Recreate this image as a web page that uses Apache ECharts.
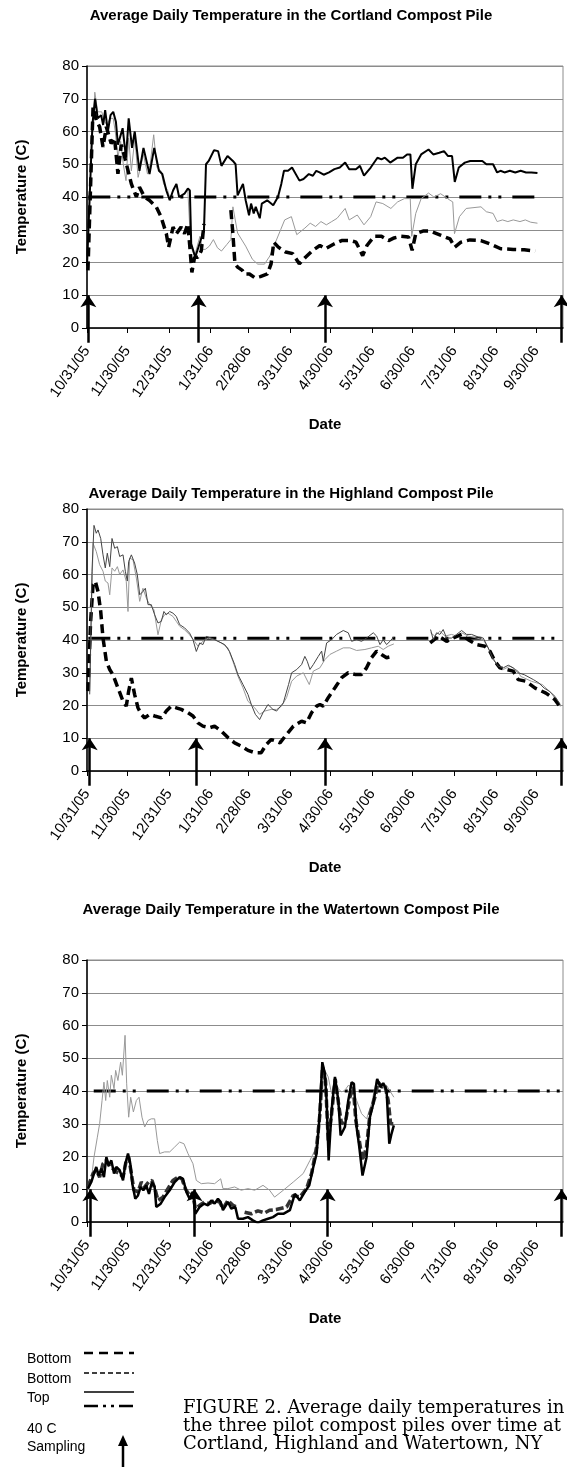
<!DOCTYPE html>
<html>
<head>
<meta charset="utf-8">
<script src="https://cdn.jsdelivr.net/npm/echarts@6/dist/echarts.min.js"></script>
<style>
  html, body { margin: 0; padding: 0; background: #fff; }
  #chart { width: 567px; height: 1467px; }
</style>
</head>
<body>
<div id="chart"></div>
<script>
// day 0 = 10/31/05
const tickDays = [0, 30, 61, 92, 120, 151, 181, 212, 242, 273, 304, 334]
const tickLabels = ['10/31/05', '11/30/05', '12/31/05', '1/31/06', '2/28/06', '3/31/06', '4/30/06', '5/31/06', '6/30/06', '7/31/06', '8/31/06', '9/30/06']

// Cortland
const cortlandTop = [[0,19],[2,40],[4,62],[6,70],[8,64],[10.5,65],[12,62],[13.5,66.5],[15.5,60],[17.5,65],[19.5,66],[21.5,63],[23,56],[26.5,61],[29,52],[31,64],[33.5,55],[35.5,60],[39,48],[42,55],[46.5,47],[50,55],[53.5,48],[56,47],[59,42],[61.5,39],[64,42],[66.5,44],[68.5,40],[72.5,41],[75,42.6],[76.5,42],[77.5,25.7],[80.5,21.6],[87,30],[88.5,50],[90.5,51],[94.5,54.3],[97.5,54],[100,49.5],[104.5,52.5],[108.5,51],[110.5,50],[112,40.5],[116,44],[118,39],[120.5,34.4],[122,38],[124,35],[125.5,37],[128.5,33.5],[130,38],[134,39],[138.5,37.5],[142,40],[144.5,44],[146.5,48],[149.5,48],[152.5,49],[158,45],[161,45.5],[165,47],[168,46.5],[170.5,48],[173,47.5],[176,46.8],[180,47.5],[184,48.5],[188,49],[192,50.5],[195,48.5],[200,48.5],[203,49.5],[206,46.5],[211,49],[216,52],[219,51.5],[221.5,52],[225.5,50.5],[231,52],[235,52],[238,53],[240.5,53],[242,42.5],[244.5,50],[248.5,53],[254,54.5],[257.5,53],[262,53.5],[265.5,54],[268.5,52.5],[271.5,52.5],[273.5,44.6],[276.5,49],[281,50.5],[285,51],[294,51],[297,50],[302,50],[305,47.5],[307.5,48],[310.5,47.5],[314.5,48],[318.5,47.5],[322.5,48],[326.5,47.5],[330.5,47.5],[335,47.3]]
const cortlandBottom1 = [[0.7,17.6],[4.5,67.5],[6.9,63.4],[9.4,61.4],[11.9,55.3],[14.4,61.4],[18,56.3],[20.5,58],[23,47.1],[25.5,56],[28,52.2],[33,44],[36.7,40],[39,43],[42.8,40],[46.4,39],[51.5,37],[55,34],[59,28.8],[60.7,24.7],[64,30.8],[66.5,28.8],[70,30.8],[72.5,28.8],[75,31.8],[76.5,24.7],[78,17],[80,21.6],[82.5,21.6],[85,23.6],[87,31.8],[97,'-'],[107,36],[108.5,28.8],[110,19.7],[112,18.6],[115.5,17.6],[117,16.5],[120.8,16.5],[124.9,15.3],[128.9,15.7],[134.2,16.5],[136.9,19.6],[138.9,26.2],[142.3,24.7],[147.7,23.2],[153,22.7],[157.9,19.6],[162.5,21.6],[167.9,23.7],[173.2,25.2],[177.3,24.2],[184,25.7],[189.4,26.7],[196,26.7],[200.1,26.2],[205,22.1],[208.2,25.2],[213.6,28],[219,28],[224.3,26.7],[228.4,27.5],[233.7,28],[239.1,27.8],[241.8,23.7],[244.5,28.8],[249.9,29.6],[255.2,29.6],[263.3,28.3],[270,27.2],[273.5,24.7],[278.1,26.2],[284.8,26.9],[292.9,26.7],[300.9,25.5],[307.7,24.2],[317,24],[325.2,23.9],[333.3,23.5]]
const cortlandBottom2 = [[0,19],[2,42],[5.8,72],[8,66],[11,66],[13,63],[15,62],[17,64],[19.5,64],[21,60],[23,52],[25,57],[27,50],[29,45],[31,58],[33,48],[35.6,58],[38,46],[42,53],[45,47],[47,50],[49.6,59],[52,49],[55,48],[57,44],[60,42],[62,39],[64,42],[66.5,44],[68.4,40],[72,41],[75,42],[76.5,30],[78,24],[80,22],[82,25],[84,28],[86,24],[88,24],[91,25],[94,27],[97,24.5],[100,23.5],[104,25.5],[107,27],[108.5,37],[112,29],[118,25],[123,21],[127,19.5],[132,19.5],[136,22],[140,26],[144,30],[147,33],[152,34],[156,28.5],[162,30.5],[166,32],[170,31],[174,32.5],[178,31.5],[182,32.5],[186,33.5],[192,36.5],[195,33],[201,34.5],[206,31.5],[211,34],[215,38.5],[220,38],[226,36.5],[231,38.5],[236,39.5],[240.4,39.5],[241.5,28],[244.5,35],[248.5,39.5],[254,41.2],[258,40],[263,41],[270,39],[272,38.5],[273.3,28.8],[277,34],[282,36.5],[293,37],[297,35.5],[302,35],[305,32.5],[309,33],[313,32.5],[317,33],[322,32.5],[326,33],[330,32.3],[335,32]]
const cortland40 = [[1,40],[337,40]]
const cortlandSampling = [1, 83, 177, 353]

// Highland
const highlandTop = [[2,23.4],[3.7,61],[5.2,75],[6.9,72.6],[8.2,73.6],[10.2,71],[11.9,66],[13.6,62],[15.1,66.5],[16.9,62.4],[18.6,71],[20.6,68],[22.6,68.5],[24.3,65.5],[26.8,66],[28.5,61],[30,58],[31,64],[33,66],[35.4,63.5],[37.4,60],[39.2,53.8],[41.6,54.8],[43.4,55.8],[45.4,50.8],[47.8,50.8],[50.3,47.7],[52.8,45.2],[55.3,45.7],[57.2,48.7],[59,47.7],[61.5,48.7],[63.9,48.2],[66.4,47.2],[68.9,44.7],[72.6,43.7],[76.3,42.1],[78.8,40.1],[81.3,36.5],[83.8,39.1],[86.2,38.6],[88.7,41.1],[92.4,40.6],[97.4,39.6],[102.4,38.6],[106,36.5],[109.8,32.5],[112.3,29.4],[116,26.4],[119.7,23.4],[122.2,20.3],[125.2,17.3],[128.4,15.7],[130.9,17.8],[134.6,20.3],[138.3,18.8],[141,18.3],[146,20.8],[149.9,26.4],[152.2,30],[156,31],[159.6,32.5],[162,35],[163.8,33.5],[165.8,31],[168.3,32.5],[172,35],[174.5,36.6],[175.7,33.5],[178.2,39.1],[181.9,40.1],[185.6,41.7],[190.6,42.9],[194.3,42.2],[196.8,39.6],[200.5,40.1],[204.2,39.6],[207.9,40.6],[212.9,42.2],[215.4,41.2],[217.9,38.6],[220.3,40.1],[222.8,38.6],[225.3,39.6],[228.2,41],[240,'-'],[255.5,43.2],[257.5,40.1],[260,42.2],[262.4,41.7],[264.9,43.2],[267.4,40.6],[271.1,40.6],[274.8,41.7],[278.6,42.9],[282.3,41.7],[286,41.7],[291,40.9],[294.7,40.6],[298.4,37.6],[302.2,34],[305.9,32],[309.6,31.5],[313.3,32.3],[317,31.5],[320.7,30],[325.2,29.4],[332,27.9],[336,26.9],[340,25.3],[344,24.3],[348,22.8],[352,20.3]]
const highlandBottom1 = [[0.7,24.4],[2.7,45.7],[4.5,56.9],[6.2,57.9],[8.2,54.8],[10.2,48.7],[11.9,40.6],[14.4,33.5],[16.9,31],[19.3,29.4],[23,25.4],[26.8,21.3],[29.2,19.8],[31,24.4],[33,28.4],[35.4,23.4],[37.9,19.3],[40.4,17.3],[42.9,16.2],[46.6,17.3],[50.3,16.8],[55.3,16.2],[59,18.3],[62.7,19.8],[66.4,19.3],[70.1,18.8],[75.1,17.8],[78.8,16.8],[82.5,14.7],[86.2,13.7],[91.2,13.2],[94.9,13.7],[99.9,12.2],[104.8,10.2],[109.8,8.6],[114.7,7.6],[119.7,6.3],[124.7,5.6],[129.6,5.6],[133.3,8.1],[137,9.6],[141,9.1],[143.5,8.6],[148.5,11.2],[153.5,13.7],[159.6,15.2],[163.3,14.7],[167,17.8],[170.8,19.8],[173.2,20.3],[175.7,19.8],[179.4,22.4],[184.4,25.4],[189.4,28.5],[194.3,30],[199.3,29.5],[204.2,29.5],[207.9,31.5],[211.6,34.6],[215.4,36.6],[219,35.6],[222.8,34.6],[227.2,35],[240,'-'],[255.2,39.1],[258.2,40.1],[261.2,41.2],[263.7,40.6],[267.4,39.6],[272.4,40.6],[278.6,41.7],[283.5,40.1],[289.7,38.6],[295.9,38.1],[299.6,36.6],[303.4,33.5],[307.1,31.5],[312,31],[317,30.5],[320.7,27.9],[326.5,27.4],[333.3,25.3],[341.3,23.8],[348,21.8],[352.6,19.2]]
const highlandBottom2 = [[2,24.4],[4.5,69.5],[6.9,67],[9.4,63],[11.9,61],[13.6,58],[15.6,57.4],[16.9,53.8],[18.6,62],[20.6,61],[22.6,62.4],[24.3,60],[26.8,61.4],[29.2,57.9],[30.5,48.7],[31.7,65],[34.2,64.5],[36.7,58.9],[39.2,51.8],[41.6,55.8],[44.1,52.8],[46.6,50.8],[49.8,49.2],[52.8,41.6],[55.3,46.2],[57.7,47.7],[60.2,48.2],[63.9,47.2],[66.4,45.7],[68.9,44.2],[72.6,43.1],[76.3,41.6],[80,39.6],[82.5,38.1],[86.2,39.6],[90,40.6],[94.9,40.1],[99.9,39.1],[104.8,37.6],[108.5,33.5],[112.3,28.9],[116,25.4],[119.7,21.3],[124.7,19.3],[128.4,17.3],[132.1,18.3],[137,18.8],[141,18.8],[144.7,19.8],[148.4,22.4],[152.2,27.4],[156,29],[160.9,30],[165.3,26.4],[168.3,30.5],[173.2,31.5],[176.9,34],[180.7,35.6],[185.6,36.6],[190.6,37.6],[195.5,37.6],[200.5,36.8],[206.7,37.1],[211.6,37.6],[216.6,38.1],[220.3,37.1],[224,38.1],[228.2,38.8],[240,'-'],[255.5,42.2],[258.7,41.2],[262.4,42.7],[266.2,41.2],[271.1,41.7],[274.8,41.2],[278.6,42.2],[283.5,41.2],[289.7,40.6],[294.7,40.1],[299.6,36.6],[304.6,32.5],[309.6,31],[314.5,32],[320.7,30.5],[322.5,28.9],[330.5,27.4],[338.6,26.4],[345.3,23.8],[352,19.7]]
const highland40 = [[1,40.5],[350,40.5]]
const highlandSampling = [2, 81, 177, 353]

// Watertown
const watertownTop = [[0.7,10.2],[3.2,12.2],[5.2,14.8],[6.9,16.8],[8.7,14.2],[10.7,16.3],[12.6,13.7],[14.4,19.8],[16.1,17.3],[18.1,18.8],[20.1,14.8],[21.8,16.8],[24.3,15.8],[26.8,12.7],[28.5,17.8],[30.5,20.9],[32.2,17.8],[33.7,11.7],[35.9,7.1],[37.9,8.1],[39.9,10.7],[41.9,9.7],[44.1,11.2],[46.1,8.6],[48.3,12.2],[50.3,10.7],[51.5,4.6],[54.8,5.6],[57.7,7.6],[61.5,9.7],[65.2,12.2],[68.9,13.7],[71.4,13.2],[73.9,9.2],[76.3,7.1],[78.8,9.2],[80.5,2.5],[83.8,4.6],[87,5.6],[90,5.1],[92.4,6.6],[94.9,5.6],[97.4,7.1],[99.4,6.1],[101.1,3.6],[104.8,6.1],[107.3,4.1],[110.3,4.6],[112.3,1],[116,1],[119.7,1.5],[123.4,0.5],[127.1,-0.3],[130.9,0.5],[134.6,1],[138.3,1.5],[142,2.5],[146,2.5],[150.9,3.6],[154.6,8.6],[158.3,6.6],[162,9.2],[165.3,11.2],[168.3,16.8],[170.8,20.9],[172.7,31],[175,48.8],[176.9,45.3],[178.2,37.1],[179.7,18.8],[181.9,34.1],[184.4,44.3],[186.9,37.1],[188.6,26.4],[191.8,29],[194.3,37.1],[196.8,42.7],[198.5,42.2],[200.5,29],[202.5,22.9],[204.9,14.2],[207.9,19.8],[210.4,32],[212.9,36.1],[215.8,43.7],[218.3,41.2],[220.3,42.4],[222.8,40.2],[224.8,23.9],[226.5,27],[228.2,29.5]]
const watertownBottom1 = [[0.7,10.7],[4.5,14.8],[6.9,15.8],[9.4,13.7],[11.9,17.8],[14.4,18.8],[16.9,16.8],[19.3,16.3],[21.8,15.3],[24.3,14.8],[26.8,13.7],[29.2,18.8],[31,19.8],[33,14.8],[34.9,9.7],[37.9,9.2],[40.4,12.2],[42.9,10.7],[45.8,12.2],[48.3,12.7],[50.8,9.7],[52.8,6.6],[56.5,7.6],[60.2,10.2],[63.9,12.7],[67.7,13.7],[70.6,13.2],[73.1,10.2],[76.3,8.1],[78.8,8.9],[80.5,4.1],[83.8,5.1],[87.5,6.1],[91.2,5.6],[94.9,6.6],[98.6,6.1],[101.1,4.1],[104.8,6.6],[108.5,5.1],[111,4.6],[114,'-'],[117.2,3],[122.2,2.5],[127.1,3.4],[132.1,2.8],[135.8,3.6],[140.8,3.8],[148.5,4.6],[153.4,8.1],[158.3,7.6],[163.3,10.2],[167,14.8],[170.8,22.9],[173.2,33],[175.2,47.3],[177.4,43.2],[179.4,24.9],[181.9,33],[184.6,43.7],[187.4,35.1],[189.3,30],[192.4,31],[195.5,38.1],[198,41.2],[199.9,31],[202.5,24.9],[204.9,18.8],[207.9,22.9],[210.4,33],[214.1,38.1],[216.6,42.7],[219,41.2],[221.5,41.7],[224,37.1],[225.8,30],[228.2,30]]
const watertownBottom2 = [[0.7,9.7],[3.2,12.7],[5.2,19.8],[7.7,25.9],[9.4,30],[11.2,37.1],[12.6,42.7],[13.9,37.1],[15.1,43.2],[16.9,38.1],[18.1,44.8],[20.1,40.7],[21.3,46.3],[23,43.2],[25,48.8],[26.3,44.8],[28.3,57],[29.5,42.2],[31,32],[32.5,38.1],[34.5,33.6],[36.7,37.1],[38.7,38.1],[40.9,32],[42.9,29],[45.4,31],[47.8,31.5],[50.3,31.5],[52.3,24.9],[54,20.9],[57.7,21.4],[61.5,21.4],[65.2,22.9],[68.9,24.4],[72.1,23.9],[75.1,20.9],[78.8,17.8],[81.3,12.7],[85,11.7],[90,11.9],[94.9,11.7],[99.4,13.2],[101.1,10.2],[104.8,10.2],[109.8,10.7],[114.7,9.7],[119.7,10.2],[124.7,9.7],[130.9,11.2],[135.8,9.7],[139.5,7.6],[146,9.7],[153.4,12.2],[160.8,14.8],[165.8,18.8],[169.5,21.9],[172,29],[174.5,41.2],[176.9,46.3],[179.4,44.3],[181.9,39.2],[184.4,43.2],[186.9,40.7],[189.3,39.7],[191.8,40.2],[194.3,41.7],[197.5,41.2],[200.5,37.1],[204.2,33.1],[207.9,31.5],[211.6,36.1],[215.4,43.7],[219,42.2],[222.8,41.7],[225.8,39.7],[228.2,38.1]]
const watertown40 = [[5,40],[354,40]]
const watertownSampling = [2.5, 80, 179, 353]

const titles = [
  'Average Daily Temperature in the Cortland Compost Pile',
  'Average Daily Temperature in the Highland Compost Pile',
  'Average Daily Temperature in the Watertown Compost Pile'
]

const FONT = 'Liberation Sans, Arial, sans-serif'
const gridTops = [66, 509, 960]
const titleTops = [3, 481, 897]

const sites = [
  { top: cortlandTop, b1: cortlandBottom1, b2: cortlandBottom2, c40: cortland40, samp: cortlandSampling,
    topStyle: { color: '#000', width: 2 }, b1Style: { color: '#000', width: 3.5, type: [9, 5] } },
  { top: highlandTop, b1: highlandBottom1, b2: highlandBottom2, c40: highland40, samp: highlandSampling,
    topStyle: { color: '#444', width: 1 }, b1Style: { color: '#000', width: 3.5, type: [9, 5] } },
  { top: watertownTop, b1: watertownBottom1, b2: watertownBottom2, c40: watertown40, samp: watertownSampling,
    topStyle: { color: '#000', width: 2.5 }, b1Style: { color: '#333', width: 3.5, type: [8, 3] } }
]

const chart = echarts.init(document.getElementById('chart'))

const grid = [], xAxis = [], yAxis = [], series = [], title = []
sites.forEach((s, i) => {
  title.push({
    text: titles[i], left: 286, top: titleTops[i], textAlign: 'center',
    textStyle: { fontFamily: FONT, fontSize: 15, fontWeight: 'bold', color: '#000' }
  })
  grid.push({ left: 87, top: gridTops[i], width: 476, height: 262, show: true, borderColor: '#8c8c8c', borderWidth: 1 })
  xAxis.push({
    gridIndex: i, type: 'value', min: 0, max: 354,
    name: 'Date', nameLocation: 'middle', nameGap: 89,
    nameTextStyle: { fontFamily: FONT, fontSize: 15, fontWeight: 'bold', color: '#000' },
    axisLine: { onZero: false, lineStyle: { color: '#000', width: 1.5 } },
    axisTick: { show: true, customValues: tickDays, length: 5, lineStyle: { color: '#000' } },
    axisLabel: {
      customValues: tickDays, formatter: v => tickLabels[tickDays.indexOf(v)] || '',
      rotate: 55, fontFamily: FONT, fontSize: 15, color: '#000', margin: 20
    },
    splitLine: { show: false }
  })
  yAxis.push({
    gridIndex: i, type: 'value', min: 0, max: 80, interval: 10,
    name: 'Temperature (C)', nameLocation: 'middle', nameGap: 58,
    nameTextStyle: { fontFamily: FONT, fontSize: 15, fontWeight: 'bold', color: '#000' },
    axisLine: { show: true, lineStyle: { color: '#000', width: 1.5 } },
    axisTick: { show: true, length: 5, lineStyle: { color: '#000' } },
    axisLabel: { fontFamily: FONT, fontSize: 15, color: '#000', margin: 8 },
    splitLine: { lineStyle: { color: '#8c8c8c', width: 1 } }
  })
  const base = { type: 'line', xAxisIndex: i, yAxisIndex: i, symbol: 'none', showSymbol: false, animation: false, silent: true }
  series.push(
    { ...base, name: '40 C', data: s.c40, z: 2, lineStyle: { color: '#000', width: 3, type: [22, 7, 3, 7, 3, 11] } },
    { ...base, name: 'Bottom2', data: s.b2, z: 3, lineStyle: { color: '#999', width: 1 } },
    { ...base, name: 'Bottom1', data: s.b1, z: 4, lineStyle: s.b1Style },
    { ...base, name: 'Top', data: s.top, z: 5, lineStyle: s.topStyle },
    {
      type: 'lines', coordinateSystem: 'cartesian2d', xAxisIndex: i, yAxisIndex: i, clip: false,
      symbol: ['none', 'arrow'], symbolSize: [10, 12], z: 6, animation: false, silent: true,
      lineStyle: { color: '#000', width: 2.5, opacity: 1 },
      data: s.samp.map(d => ({ coords: [[d, -4.5], [d, 10]] }))
    }
  )
})

// legend + caption
const leg = (y, dash, w) => ({
  type: 'line', shape: { x1: 84, y1: y, x2: 134, y2: y },
  style: { stroke: '#000', lineWidth: w, lineDash: dash }
})
const txt = (x, y, t, font) => ({
  type: 'text', x: x, y: y,
  style: { text: t, font: font, fill: '#000', textVerticalAlign: 'middle' }
})
const legendFont = '14px ' + FONT
const capFont = '18px "DejaVu Serif", serif'

chart.setOption({
  backgroundColor: '#fff',
  animation: false,
  title, grid, xAxis, yAxis, series,
  graphic: [
    txt(27, 1359, 'Bottom', legendFont),
    leg(1353, [9, 6], 2.5),
    txt(27, 1379, 'Bottom', legendFont),
    leg(1373, [5, 3], 1.5),
    txt(27, 1398, 'Top', legendFont),
    leg(1392, null, 1.5),
    leg(1406, [14, 5, 3, 5, 3, 5], 2.5),
    txt(27, 1429, '40 C', legendFont),
    txt(27, 1447, 'Sampling', legendFont),
    { type: 'line', shape: { x1: 123, y1: 1444, x2: 123, y2: 1467 }, style: { stroke: '#000', lineWidth: 2.5 } },
    { type: 'polygon', shape: { points: [[118, 1446], [123, 1435], [128, 1446]] }, style: { fill: '#000' } },
    txt(183, 1408, 'FIGURE 2. Average daily temperatures in', capFont),
    txt(183, 1426, 'the three pilot compost piles over time at', capFont),
    txt(183, 1444, 'Cortland, Highland and Watertown, NY', capFont)
  ]
})
</script>
</body>
</html>
